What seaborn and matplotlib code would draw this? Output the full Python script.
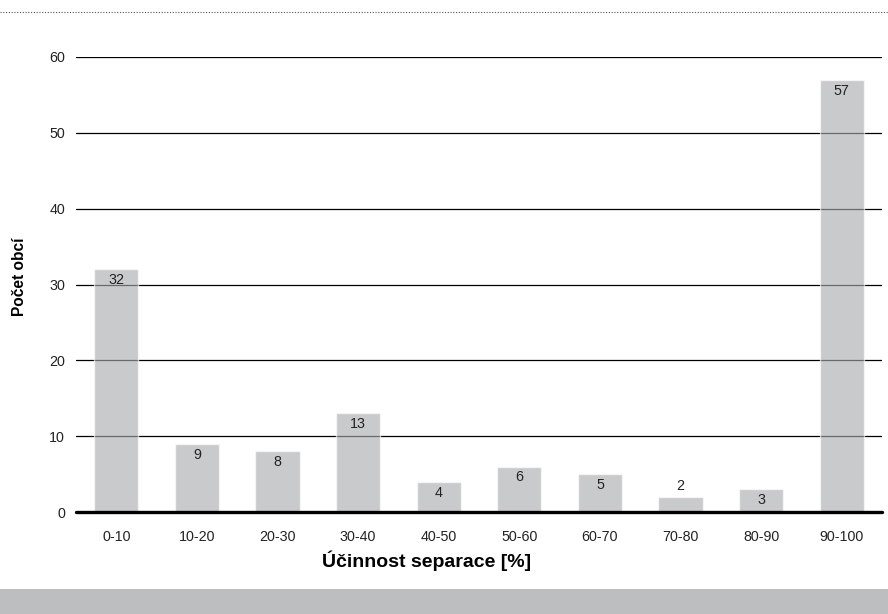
import matplotlib
matplotlib.use("Agg")
import matplotlib.pyplot as plt
from matplotlib.lines import Line2D
from matplotlib.patches import Rectangle
import seaborn as sns
import pandas as pd

categories = ["0-10", "10-20", "20-30", "30-40", "40-50",
              "50-60", "60-70", "70-80", "80-90", "90-100"]
counts = [32, 9, 8, 13, 4, 6, 5, 2, 3, 57]
y_ticks = [0, 10, 20, 30, 40, 50, 60]

x_title = "Účinnost separace [%]"
y_title = "Počet obcí"

sns.set_theme(style="white")
plt.rcParams["font.family"] = ["Liberation Sans", "DejaVu Sans"]

df = pd.DataFrame({"interval": categories, "obce": counts})

fig = plt.figure(figsize=(8.88, 6.14), dpi=100)
ax = fig.add_axes([76 / 888, 1 - 512 / 614, 806 / 888, (512 - 57) / 614])

# horizontal grid behind the translucent bars
for t in y_ticks[1:]:
    ax.axhline(t, color="black", lw=0.9, zorder=0)

sns.barplot(data=df, x="interval", y="obce", color="#a9aaad", alpha=0.62,
            width=0.55, saturation=1, ax=ax, zorder=2)

# value labels just inside the bar top, above it when the bar is too short
for i, v in enumerate(counts):
    y = v - 1.45 if v >= 3 else v + 1.45
    ax.text(i, y, str(v), ha="center", va="center",
            fontsize=10.3, color="#222222", zorder=3)

ax.axhline(0, color="black", lw=2.4, zorder=4, clip_on=False)

ax.set_ylim(0, 60)
ax.set_xlim(-0.5, len(categories) - 0.5)
ax.set_yticks(y_ticks)
ax.set_yticklabels([str(t) for t in y_ticks])
ax.tick_params(axis="y", length=0, pad=8, labelsize=10.3, colors="#222222")
ax.tick_params(axis="x", length=0, pad=13, labelsize=10.3, colors="#222222")
for s in ax.spines.values():
    s.set_visible(False)
ax.set_xlabel("")
ax.set_ylabel("")

fig.text(427 / 888, 1 - 561 / 614, x_title, ha="center", va="center",
         fontsize=14, fontweight="bold", color="black")
fig.text(19 / 888, 1 - 277 / 614, y_title, ha="center", va="center",
         rotation=90, fontsize=11.2, fontweight="bold", color="black")

# dotted rule along the top and grey band along the bottom
fig.add_artist(Line2D([0, 1], [1 - 12 / 614, 1 - 12 / 614], transform=fig.transFigure,
                      color="#555555", lw=0.8, linestyle=(0, (1, 1.5))))
fig.add_artist(Rectangle((0, 0), 1, 25 / 614, transform=fig.transFigure,
                         facecolor="#bdbec0", edgecolor="none"))

fig.savefig("out.png", dpi=100)
